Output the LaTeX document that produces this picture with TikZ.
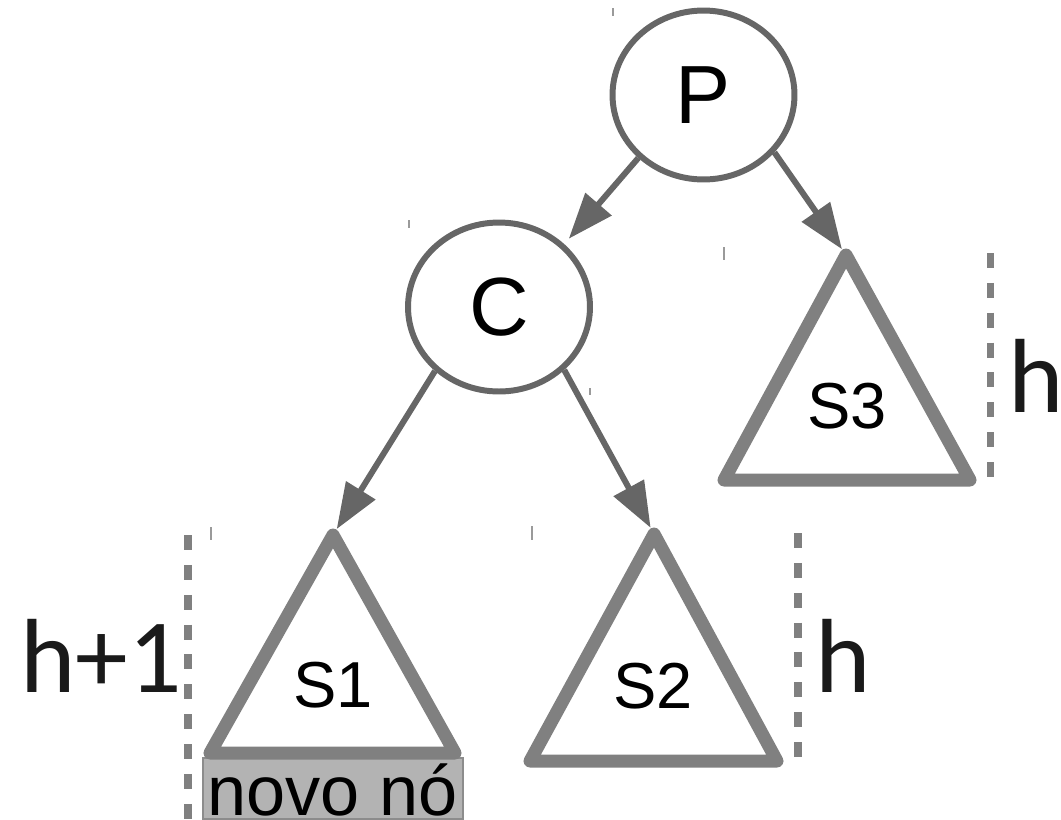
\documentclass[tikz,border=0pt]{standalone}
\usepackage{fontspec}
\setmainfont{Liberation Sans}
\newfontfamily\calfont{Carlito}
\usetikzlibrary{arrows.meta,shapes.geometric}
\definecolor{nodegray}{HTML}{666666}
\definecolor{trigray}{HTML}{808080}
\definecolor{boxgray}{HTML}{B3B3B3}
\definecolor{boxedge}{HTML}{8C8C8C}
\definecolor{hgray}{HTML}{1A1A1A}
\definecolor{tickgray}{HTML}{9A9A9A}
\begin{document}
\begin{tikzpicture}[x=0.02cm,y=-0.02cm,
  treenode/.style={ellipse,draw=nodegray,line width=3.4pt,fill=white,inner sep=0pt,
     minimum width=3.64cm,minimum height=3.38cm,font=\fontsize{47}{56}\selectfont},
  arr/.style={draw=nodegray,line width=3.4pt,-{Triangle[length=26pt,width=19pt]},shorten >=0.14cm},
  subtree/.style={draw=trigray,line width=7.4pt,line join=round,fill=white},
  sublabel/.style={anchor=base,inner sep=0pt,font=\fontsize{37}{44}\selectfont},
  dashln/.style={draw=trigray,line width=4pt,dash pattern=on 8.5pt off 8.5pt},
  hlabel/.style={anchor=base,inner sep=0pt,text=hgray,font=\calfont\fontsize{60}{72}\selectfont},
  tickmark/.style={draw=tickgray,line width=0.6pt}
]
\useasboundingbox (0,0) rectangle (1061,819);

% tiny tick marks
\draw[tickmark] (613,8) -- (613,16);
\draw[tickmark] (409,220) -- (409,228);
\draw[tickmark] (724,247) -- (724,260);
\draw[tickmark] (590,388) -- (590,395);
\draw[tickmark] (211,527) -- (211,540);
\draw[tickmark] (532,526) -- (532,540);

% new node box
\fill[boxgray,draw=boxedge,line width=0.8pt] (203,758) rectangle (463,819);
\node[anchor=base,inner sep=0pt,font=\fontsize{40}{48}\selectfont] (novo) at (332.5,815) {novo nó};

% subtrees
\draw[subtree] (333,535) -- (455,753) -- (210,753) -- cycle;
\draw[subtree] (654,534) -- (777,761) -- (530,761) -- cycle;
\draw[subtree] (846,255) -- (970,480) -- (724,480) -- cycle;
\coordinate (s1) at (333,535);
\coordinate (s2) at (654,534);
\coordinate (s3) at (846,255);
\node[sublabel] (l1) at (333,707) {S1};
\node[sublabel] (l2) at (653,708) {S2};
\node[sublabel] (l3) at (847,428) {S3};

% tree nodes
\node[treenode] (P) at (703.5,95) {P};
\node[treenode] (C) at (499,307) {C};

% connectors
\draw[arr] (P.224) -- (C.44);
\draw[arr] (P.-39) -- (s3);
\draw[arr] (C.225) -- (s1);
\draw[arr] (C.-44) -- (s2);

% height markers
\draw[dashln] (188,535) -- (188,819);
\draw[dashln] (798,533) -- (798,757);
\draw[dashln] (990,253) -- (990,477);
\node[hlabel] (h1) at (101,692) {h+1};
\node[hlabel] (h2) at (843.5,692) {h};
\node[hlabel] (h3) at (1036,412) {h};
\end{tikzpicture}
\end{document}
